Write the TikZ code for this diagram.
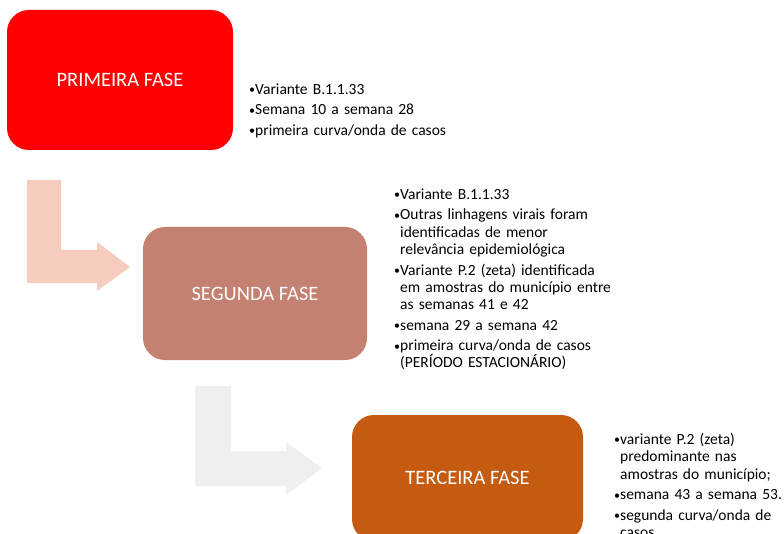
\documentclass[tikz,border=0pt]{standalone}
\usepackage{fontspec}
\setmainfont{Carlito}
\definecolor{fasevermelho}{HTML}{FF0000}
\definecolor{faserosa}{HTML}{C48070}
\definecolor{faselaranja}{HTML}{C55A11}
\definecolor{setarosa}{HTML}{F6CCBF}
\definecolor{setacinza}{HTML}{EFEFEF}
\newcommand{\faseitem}[1]{\par\hangindent=6pt\hangafter=1\noindent\makebox[6pt][l]{\raisebox{0.6pt}{\fontsize{12}{12}\selectfont\textbullet}}#1\par\vspace{3.2pt}}
\begin{document}
\begin{tikzpicture}[x=1pt,y=-1pt,
    fasebox/.style={rounded corners=22pt, inner sep=0pt, text=white, font=\fontsize{20.5}{24}\selectfont},
    fasetexto/.style={anchor=north west, inner sep=0pt, text width=260pt, font=\fontsize{15.5}{17.3}\selectfont\raggedright}]
        \useasboundingbox (0,0) rectangle (784,534);
        % setas dobradas
        \fill[setarosa]  (27,180) -- (61,180) -- (61,250) -- (97,250) -- (97,242) -- (130,267) -- (97,291) -- (97,283) -- (27,283) -- cycle;
        \fill[setacinza] (195,386) -- (231,386) -- (231,451) -- (286,451) -- (286,442) -- (322,468) -- (286,495) -- (286,486) -- (195,486) -- cycle;
        % fases
        \node[fasebox, fill=fasevermelho, minimum width=226, minimum height=140] (primeira) at (120,80) {PRIMEIRA FASE};
        \node[fasebox, fill=faserosa, minimum width=224, minimum height=133] (segunda) at (255,293.5) {SEGUNDA FASE};
        \node[fasebox, fill=faselaranja, minimum width=231, minimum height=126] (terceira) at (467.5,478) {TERCEIRA FASE};
        % textos
        \node[fasetexto] (textoprimeira) at (249,77) {%
            \faseitem{Variante B.1.1.33}
            \faseitem{Semana 10 a semana 28}
            \faseitem{primeira curva/onda de casos}};
        \node[fasetexto] (textosegunda) at (394,182) {%
            \faseitem{Variante B.1.1.33}
            \faseitem{Outras linhagens virais foram\newline identificadas de menor\newline relevância epidemiológica}
            \faseitem{Variante P.2 (zeta) identificada\newline em amostras do município entre\newline as semanas 41 e 42}
            \faseitem{semana 29 a semana 42}
            \faseitem{primeira curva/onda de casos\newline (PERÍODO ESTACIONÁRIO)}};
        \node[fasetexto] (textoterceira) at (614,427) {%
            \faseitem{variante P.2 (zeta)\newline predominante nas\newline amostras do município;}
            \faseitem{semana 43 a semana 53.}
            \faseitem{segunda curva/onda de\newline casos}};
    \end{tikzpicture}
\end{document}
